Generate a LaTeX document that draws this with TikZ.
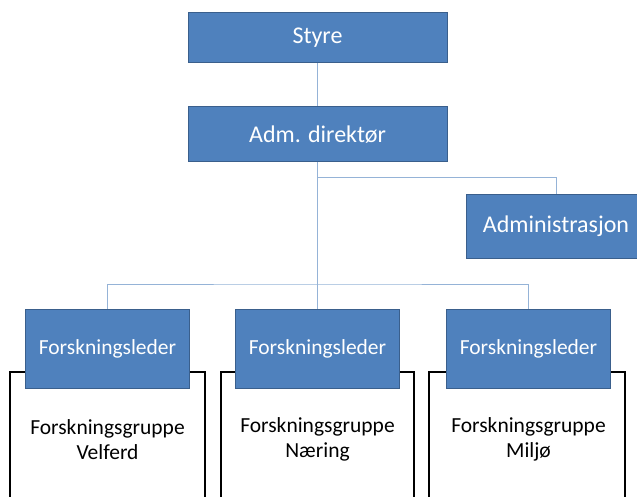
\documentclass[tikz,border=0pt]{standalone}
\usepackage{fontspec}
\setmainfont{Carlito}
\usetikzlibrary{positioning}

\definecolor{boxblue}{HTML}{4F81BD}
\definecolor{boxedge}{HTML}{3A5F8C}
\definecolor{linkblue}{HTML}{95B3D7}

\begin{document}
\begin{tikzpicture}[x=1pt,y=-1pt,
	unitbox/.style={draw=boxedge,fill=boxblue,text=white,line width=1pt,inner sep=0pt,
		minimum width=259pt,minimum height=50pt,font=\fontsize{24}{28}\selectfont},
	leaderbox/.style={unitbox,minimum width=164pt,minimum height=79pt,font=\fontsize{21.5}{25}\selectfont},
	grouptext/.style={align=center,inner sep=0pt,font=\fontsize{21.5}{25}\selectfont},
	link/.style={draw=linkblue,line width=1pt},
	groupline/.style={draw=black,line width=1.8pt}]

\useasboundingbox (0,0) rectangle (637,497);
\clip (0,0) rectangle (637,497);

% top of the chart
\node[unitbox] (styre) at (317.5,38) {Styre};
\node[unitbox,minimum height=55pt] (adm) at (317.5,134.5) {Adm. direktør};
\node[unitbox,minimum width=180pt,minimum height=63pt] (admin) at (556,226.5) {Administrasjon};

% research groups
\foreach \i/\cx/\xl/\xr/\field in {1/107.5/10/205/Velferd,2/317.5/221/414/Næring,3/528.5/429/625/Miljø}{
	\draw[groupline] (\xl,505)--(\xl,372)--(\xr,372)--(\xr,505);
	\node[grouptext] (group\i) at (\cx,439.5) {Forskningsgruppe\\\field};
	\node[leaderbox] (lead\i) at (\cx,348.5) {Forskningsleder};
}

\coordinate (hub) at (317.5,178);
\coordinate (bus) at (317.5,284);

\draw[link] (styre)--(adm);
\draw[link] (adm)--(hub) -| (admin);
\draw[link] (hub)--(lead2);
\draw[link] (lead1) |- (bus) -| (lead3);

\end{tikzpicture}
\end{document}
